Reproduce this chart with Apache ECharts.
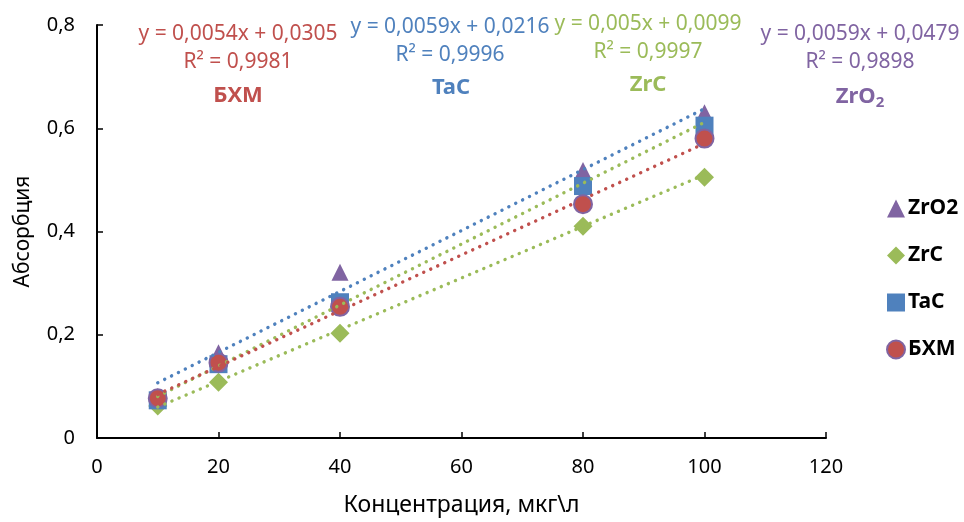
<!DOCTYPE html>
<html>
<head>
<meta charset="utf-8">
<script src="https://cdn.jsdelivr.net/npm/echarts@6/dist/echarts.min.js"></script>
<style>
  html, body { margin: 0; padding: 0; background: #fff; }
  #chart { width: 964px; height: 522px; }
</style>
</head>
<body>
<div id="chart"></div>
<script>
// Concentration points (мкг\л)
const concentrations = [10, 20, 40, 80, 100];

// Measured absorption for each material
const absZrO2 = [0.080, 0.165, 0.321, 0.518, 0.630];
const absZrC  = [0.062, 0.108, 0.203, 0.410, 0.505];
const absTaC  = [0.073, 0.143, 0.263, 0.488, 0.605];
const absBHM  = [0.077, 0.146, 0.254, 0.453, 0.580];

// Linear trend coefficients (slope, intercept, R²) per material
const trendNames      = ['БХМ', 'TaC', 'ZrC', 'ZrO2'];
const trendSlopes     = [0.0054, 0.0059, 0.005, 0.0059];
const trendIntercepts = [0.0305, 0.0216, 0.0099, 0.0479];
const trendR2         = [0.9981, 0.9996, 0.9997, 0.9898];
const trendRange      = [10, 100];

// Axis ticks
const xTicks = [0, 20, 40, 60, 80, 100, 120];
const yTicks = [0, 0.2, 0.4, 0.6, 0.8];

const FONT = 'Noto Sans';
const C_RED = '#C0504D', C_BLUE = '#4F81BD', C_GREEN = '#9BBB59', C_PURPLE = '#8064A2';

const comma = v => String(v).replace('.', ',');

const chart = echarts.init(document.getElementById('chart'), null, { renderer: 'canvas' });

function pairs(vals) {
  return concentrations.map((x, i) => [x, vals[i]]);
}

// Trend line drawn from its equation over the measured range
function trendSeries(idx, color) {
  const k = trendSlopes[idx], b = trendIntercepts[idx];
  return {
    type: 'line',
    name: trendNames[idx] + ' trend',
    data: trendRange.map(x => [x, k * x + b]),
    symbol: 'none',
    silent: true,
    z: 5,
    lineStyle: { color: color, width: 3.4, type: [0.1, 7.6], cap: 'round' }
  };
}

function centeredText(text, x, y, color, font) {
  return { type: 'text', x: x, y: y, silent: true,
    style: { text: text, fill: color, font: font, align: 'center', verticalAlign: 'middle' } };
}

// Equation / R² / name block placed above the plot
function labelBlock(idx, cx, cy, color) {
  const eq = 'y = ' + comma(trendSlopes[idx]) + 'x + ' + comma(trendIntercepts[idx]);
  const r2 = 'R² = ' + comma(trendR2[idx]);
  return [
    centeredText(eq, cx, cy, color, '21px "' + FONT + '"'),
    centeredText(r2, cx, cy + 28, color, '21px "' + FONT + '"')
  ];
}

const NAME_FONT = 'bold 22px "' + FONT + '"';
const graphics = [];
// БХМ
graphics.push(...labelBlock(0, 238, 34, C_RED));
graphics.push(centeredText('БХМ', 238, 96, C_RED, NAME_FONT));
// TaC
graphics.push(...labelBlock(1, 450, 27, C_BLUE));
graphics.push(centeredText('TaC', 451, 88, C_BLUE, NAME_FONT));
// ZrC
graphics.push(...labelBlock(2, 648, 24, C_GREEN));
graphics.push(centeredText('ZrC', 648, 85, C_GREEN, NAME_FONT));
// ZrO2 with subscript
graphics.push(...labelBlock(3, 860, 34, C_PURPLE));
graphics.push({ type: 'text', x: 860, y: 97, silent: true, style: {
  text: '{a|ZrO}{s|2}', align: 'center', verticalAlign: 'middle',
  rich: {
    a: { fill: C_PURPLE, font: NAME_FONT },
    s: { fill: C_PURPLE, font: 'bold 15px "' + FONT + '"', padding: [12, 0, 0, 0] }
  }
} });

const option = {
  animation: false,
  backgroundColor: '#fff',
  textStyle: { fontFamily: FONT },
  grid: { left: 97, right: 138, top: 25, bottom: 82, containLabel: false },
  legend: {
    orient: 'vertical',
    left: 881,
    top: 193,
    itemGap: 26,
    itemWidth: 18,
    itemHeight: 18,
    data: ['ZrO2', 'ZrC', 'TaC', 'БХМ'],
    textStyle: { color: '#000', fontSize: 21, fontWeight: 'bold', fontFamily: FONT, padding: [0, 0, 0, -2] },
    selectedMode: false
  },
  xAxis: {
    type: 'value',
    min: 0, max: 120, interval: 20,
    name: 'Концентрация, мкг\\л',
    nameLocation: 'middle',
    nameGap: 56,
    nameTextStyle: { color: '#000', fontSize: 23, fontFamily: FONT },
    axisLine: { show: true, onZero: false, lineStyle: { color: '#000', width: 2 } },
    axisTick: { show: true, inside: true, length: 6, lineStyle: { color: '#000', width: 1.5 } },
    axisLabel: { color: '#000', fontSize: 20, margin: 19, fontFamily: FONT },
    splitLine: { show: false }
  },
  yAxis: {
    type: 'value',
    min: 0, max: 0.8, interval: 0.2,
    name: 'Абсорбция',
    nameLocation: 'middle',
    nameGap: 63,
    nameTextStyle: { color: '#000', fontSize: 21, fontFamily: FONT },
    axisLine: { show: true, onZero: false, lineStyle: { color: '#000', width: 2 } },
    axisTick: { show: true, inside: true, length: 6, lineStyle: { color: '#000', width: 1.5 } },
    axisLabel: { color: '#000', fontSize: 20, margin: 22, fontFamily: FONT,
      formatter: v => comma(Math.round(v * 10) / 10) },
    splitLine: { show: false }
  },
  series: [
    { type: 'scatter', name: 'ZrC', data: pairs(absZrC), symbol: 'diamond', symbolSize: 19, z: 2,
      itemStyle: { color: C_GREEN, opacity: 1 } },
    { type: 'scatter', name: 'ZrO2', data: pairs(absZrO2), symbol: 'triangle', symbolSize: [17, 17], z: 2,
      itemStyle: { color: C_PURPLE, opacity: 1 } },
    { type: 'scatter', name: 'TaC', data: pairs(absTaC), symbol: 'rect', symbolSize: 18, z: 3,
      itemStyle: { color: C_BLUE, opacity: 1 } },
    { type: 'scatter', name: 'БХМ', data: pairs(absBHM), symbol: 'circle', symbolSize: 18, z: 4,
      itemStyle: { color: C_RED, borderColor: C_PURPLE, borderWidth: 2, opacity: 1 } },
    trendSeries(3, C_BLUE),
    trendSeries(1, C_GREEN),
    trendSeries(0, C_RED),
    trendSeries(2, C_GREEN)
  ],
  graphic: graphics
};

chart.setOption(option);
</script>
</body>
</html>
